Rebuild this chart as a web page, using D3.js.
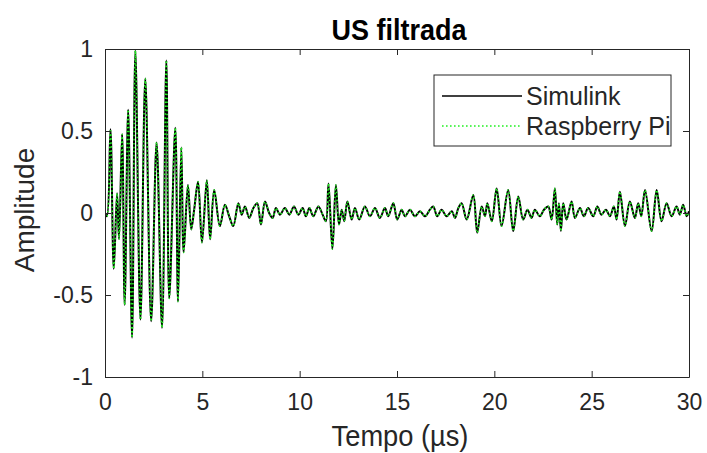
<!DOCTYPE html>
<html>
<head>
<meta charset="utf-8">
<script src="https://cdn.jsdelivr.net/npm/d3@7"></script>
<style>
  body { margin: 0; background: #fff; }
  svg text { font-family: "Liberation Sans", Arial, sans-serif; }
</style>
</head>
<body>
<div id="chart"></div>
<script>
// time (µs), amplitude (peaks and troughs)
const simulinkTrace = [
  [0,0],[0.1,-0.02],[0.28,0.51],[0.45,-0.34],[0.62,0.12],[0.72,-0.16],[0.88,0.48],[1.01,-0.56],
  [1.19,0.63],[1.39,-0.76],[1.56,0.99],[1.82,-0.65],[2.07,0.82],[2.37,-0.66],[2.65,0.43],[2.93,-0.70],
  [3.15,0.93],[3.30,-0.52],[3.61,0.52],[3.75,-0.54],[3.92,0.40],[4.04,-0.24],[4.26,0.17],[4.43,-0.10],
  [4.58,0.02],[4.78,0.19],[4.98,-0.18],[5.23,0.20],[5.40,-0.16],[5.61,0.14],
  [5.9,-0.08],[6.16,0.05],[6.38,-0.02],[6.59,-0.08],[6.85,0.06],[7.02,-0.01],[7.19,0.04],[7.41,-0.03],
  [7.62,0.03],[7.82,0.06],[8.01,-0.07],[8.22,0.07],[8.43,0.0],[8.61,-0.03],[8.78,0.03],[8.99,-0.01],
  [9.24,0.03],[9.47,-0.01],[9.71,0.04],[9.93,-0.01],[10.15,0.03],[10.32,-0.02],[10.5,0.03],[10.7,-0.02],
  [10.96,0.04],[11.18,-0.01],[11.35,-0.05],
  [11.48,0.18],[11.68,-0.22],[11.86,0.17],[12.02,-0.07],[12.16,0.02],[12.29,-0.05],[12.45,0.07],[12.67,-0.04],
  [12.84,0.03],[13.06,-0.04],[13.35,0.04],[13.61,-0.02],[13.87,0.03],[14.12,-0.03],[14.38,0.03],[14.55,-0.02],
  [14.81,0.06],[15.01,-0.04],[15.24,0.02],
  [15.41,-0.02],[15.67,0.02],[15.92,-0.02],[16.18,0.01],[16.44,-0.02],[16.69,0.02],[16.86,0.04],[17.07,-0.02],
  [17.29,0.02],[17.55,-0.02],[17.81,0.01],[17.98,-0.03],[18.15,0.03],[18.32,0.06],[18.58,-0.04],[18.92,0.11],
  [19.12,-0.12],[19.35,0.04],[19.52,-0.02],[19.64,0.06],[19.87,-0.05],[20.12,0.15],[20.37,-0.08],[20.71,0.14],
  [20.97,-0.11],[21.23,0.10],[21.48,-0.04],[21.7,0.02],[21.91,-0.03],[22.08,0.02],[22.34,-0.02],[22.55,0.02],
  [22.77,0.04],[22.94,-0.04],[23.11,0.15],[23.23,-0.07],[23.32,0.06],[23.42,-0.11],[23.54,0.06],[23.71,-0.04],
  [23.97,0.07],[24.14,-0.03],[24.40,0.03],[24.6,-0.02],[24.82,0.03],[25.08,-0.02],[25.29,0.04],[25.5,-0.01],
  [25.73,0.02],[25.94,-0.02],[26.14,0.04],[26.28,-0.04],[26.45,0.13],[26.71,-0.08],[26.96,0.07],[27.22,-0.03],
  [27.39,0.06],[27.55,-0.02],[27.74,0.14],[28.08,-0.11],[28.34,0.14],[28.59,-0.05],[28.85,0.06],[29.11,-0.02],
  [29.36,0.04],[29.53,-0.01],[29.7,0.05],[29.88,-0.02],[30,0.01]
];
// the Raspberry Pi output lies on top of the Simulink one in the figure
const raspberryTrace = simulinkTrace;

const seriesNames = ["Simulink", "Raspberry Pi"];
const xTicks = [0, 5, 10, 15, 20, 25, 30];
const xTickLabels = ["0", "5", "10", "15", "20", "25", "30"];
const yTicks = [-1, -0.5, 0, 0.5, 1];
const yTickLabels = ["-1", "-0.5", "0", "0.5", "1"];

const width = 707, height = 453;
const marginTop = 49, marginRight = 18, marginBottom = 76, marginLeft = 105;
const axisColor = "#262626";
const green = "#22f022";

const svg = d3.select("#chart").append("svg")
    .attr("width", width)
    .attr("height", height)
    .attr("viewBox", [0, 0, width, height]);

const x = d3.scaleLinear().domain([0, 30]).range([marginLeft, width - marginRight]);
const y = d3.scaleLinear().domain([-1, 1]).range([height - marginBottom, marginTop]);

svg.append("clipPath").attr("id", "plot-clip")
  .append("rect")
    .attr("x", marginLeft).attr("y", marginTop)
    .attr("width", x(30) - marginLeft).attr("height", y(-1) - marginTop);

const line = d3.line()
    .x(d => x(d[0]))
    .y(d => y(d[1]))
    .curve(d3.curveCatmullRom.alpha(0.5));

const plot = svg.append("g").attr("clip-path", "url(#plot-clip)");

plot.append("path")
    .datum(simulinkTrace)
    .attr("fill", "none")
    .attr("stroke", "#000")
    .attr("stroke-width", 2)
    .attr("d", line);

plot.append("path")
    .datum(raspberryTrace)
    .attr("fill", "none")
    .attr("stroke", green)
    .attr("stroke-width", 1.6)
    .attr("stroke-dasharray", "1.6,2.4")
    .attr("d", line);

// axes with inward ticks, box on
const tickFont = 23;
svg.append("g")
    .attr("transform", `translate(0,${y(-1)})`)
    .call(d3.axisBottom(x).tickValues(xTicks).tickFormat((d, i) => xTickLabels[i])
      .tickSizeInner(-6).tickSizeOuter(0).tickPadding(17))
    .call(g => g.select(".domain").attr("stroke", axisColor))
    .call(g => g.selectAll(".tick line").attr("stroke", axisColor))
    .call(g => g.selectAll(".tick text").attr("fill", axisColor).attr("font-size", tickFont));

svg.append("g")
    .attr("transform", `translate(0,${y(1)})`)
    .call(d3.axisTop(x).tickValues(xTicks).tickFormat("")
      .tickSizeInner(-6).tickSizeOuter(0))
    .call(g => g.select(".domain").attr("stroke", axisColor))
    .call(g => g.selectAll(".tick line").attr("stroke", axisColor));

svg.append("g")
    .attr("transform", `translate(${x(0)},0)`)
    .call(d3.axisLeft(y).tickValues(yTicks).tickFormat((d, i) => yTickLabels[i])
      .tickSizeInner(-6).tickSizeOuter(0).tickPadding(12))
    .call(g => g.select(".domain").attr("stroke", axisColor))
    .call(g => g.selectAll(".tick line").attr("stroke", axisColor))
    .call(g => g.selectAll(".tick text").attr("fill", axisColor).attr("font-size", tickFont));

svg.append("g")
    .attr("transform", `translate(${x(30)},0)`)
    .call(d3.axisRight(y).tickValues(yTicks).tickFormat("")
      .tickSizeInner(-6).tickSizeOuter(0))
    .call(g => g.select(".domain").attr("stroke", axisColor))
    .call(g => g.selectAll(".tick line").attr("stroke", axisColor));

svg.selectAll(".domain, .tick line").attr("stroke-width", 1);

// labels
svg.append("text")
    .attr("transform", "translate(399,40) scale(0.9,1)")
    .attr("text-anchor", "middle")
    .attr("font-weight", "bold")
    .attr("font-size", 30)
    .attr("fill", "#000")
    .text("US filtrada");

svg.append("text")
    .attr("transform", "translate(400,446) scale(0.94,1)")
    .attr("text-anchor", "middle")
    .attr("font-size", 29)
    .attr("fill", axisColor)
    .text("Tempo (µs)");

svg.append("text")
    .attr("transform", "translate(34,210) rotate(-90)")
    .attr("text-anchor", "middle")
    .attr("font-size", 28)
    .attr("fill", axisColor)
    .text("Amplitude");

// legend
const legend = svg.append("g").attr("transform", "translate(434,75)");
legend.append("rect")
    .attr("width", 237).attr("height", 71)
    .attr("fill", "#fff")
    .attr("stroke", axisColor).attr("stroke-width", 1);

const legendStyles = [
  { stroke: "#000", dash: null, width: 1.5 },
  { stroke: green, dash: "1.6,2.4", width: 1.6 }
];
seriesNames.forEach((name, i) => {
  const ly = 21 + i * 30;
  legend.append("line")
      .attr("x1", 8).attr("x2", 88).attr("y1", ly).attr("y2", ly)
      .attr("stroke", legendStyles[i].stroke)
      .attr("stroke-width", legendStyles[i].width)
      .attr("stroke-dasharray", legendStyles[i].dash);
  legend.append("text")
      .attr("x", 92).attr("y", ly)
      .attr("dy", "0.35em")
      .attr("font-size", 25)
      .attr("fill", axisColor)
      .text(name);
});
</script>
</body>
</html>
